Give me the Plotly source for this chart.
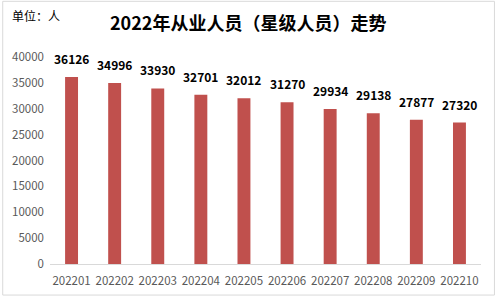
import plotly.graph_objects as go

months = ["202201", "202202", "202203", "202204", "202205",
          "202206", "202207", "202208", "202209", "202210"]
employees = [36126, 34996, 33930, 32701, 32012, 31270, 29934, 29138, 27877, 27320]
y_ticks = [0, 5000, 10000, 15000, 20000, 25000, 30000, 35000, 40000]

W, H = 496, 300
ML, MR, MT, MB = 48, 15, 57, 33
PW, PH = W - ML - MR, H - MT - MB

font_cn = "Noto Sans CJK SC"

fig = go.Figure(go.Bar(
    x=months, y=employees,
    marker=dict(color="#C0504D", line=dict(width=0)),
    width=0.3,
    cliponaxis=False,
))

label_annotations = [
    dict(x=i, y=v, xref="x", yref="y", text=f"<b>{v}</b>", showarrow=False,
         yanchor="bottom", yshift=8,
         font=dict(family=font_cn, size=12, color="#000000"))
    for i, v in enumerate(employees)
]

fig.update_layout(
    width=W, height=H,
    margin=dict(l=ML, r=MR, t=MT, b=MB),
    paper_bgcolor="white", plot_bgcolor="white",
    showlegend=False,
    font=dict(family=font_cn),
    xaxis=dict(type="category", range=[-0.5, len(months) - 0.5],
               showline=True, linecolor="#D9D9D9", linewidth=1,
               ticks="", tickfont=dict(size=11.5, color="#595959"), showgrid=False,
               ticklabelstandoff=6),
    yaxis=dict(range=[0, 40000], tickvals=y_ticks, ticktext=[str(v) for v in y_ticks],
               showgrid=False, zeroline=False,
               showline=False, ticks="", tickfont=dict(size=11.5, color="#595959"),
               ticklabelstandoff=5),
    annotations=label_annotations + [
        dict(text="<b>2022年从业人员（星级人员）走势</b>", xref="paper", yref="paper",
             x=(247 - ML) / PW, y=1 + (MT - 22) / PH, xanchor="center", yanchor="middle",
             showarrow=False, font=dict(size=18, color="#000000", family=font_cn)),
        dict(text="单位：人", xref="paper", yref="paper",
             x=(8 - ML) / PW, y=1 + (MT - 15) / PH, xanchor="left", yanchor="middle",
             showarrow=False, font=dict(size=12, color="#000000", family=font_cn)),
    ],
    shapes=[dict(type="rect", xref="paper", yref="paper",
                 x0=(0.5 - ML) / PW, x1=1 + (MR - 1.5) / PW,
                 y0=-(MB - 1.5) / PH, y1=1 + (MT - 0.5) / PH,
                 line=dict(color="#D9D9D9", width=1), fillcolor="rgba(0,0,0,0)",
                 layer="below")],
)

fig.write_html("out.html")
